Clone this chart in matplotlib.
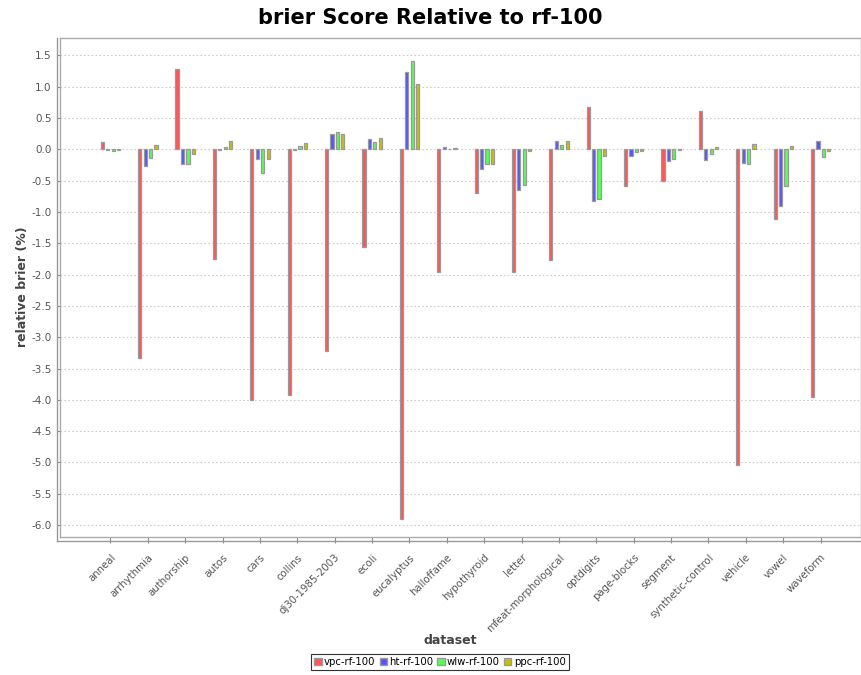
import numpy as np
import matplotlib
matplotlib.use("Agg")
import matplotlib.pyplot as plt
from matplotlib.lines import Line2D
from matplotlib.patches import Patch

datasets = ["anneal", "arrhythmia", "authorship", "autos", "cars", "collins",
            "dj30-1985-2003", "ecoli", "eucalyptus", "halloffame", "hypothyroid",
            "letter", "mfeat-morphological", "optdigits", "page-blocks", "segment",
            "synthetic-control", "vehicle", "vowel", "waveform"]

vpc = [0.11, -3.33, 1.29, -1.75, -4.00, -3.93, -3.22, -1.56, -5.91, -1.96,
       -0.69, -1.96, -1.77, 0.67, -0.58, -0.51, 0.62, -5.04, -1.11, -3.95]
ht = [-0.01, -0.27, -0.24, -0.01, -0.15, -0.01, 0.24, 0.16, 1.24, 0.04,
      -0.32, -0.65, 0.14, -0.83, -0.11, -0.18, -0.17, -0.22, -0.90, 0.14]
wlw = [-0.03, -0.14, -0.24, 0.03, -0.38, 0.05, 0.28, 0.12, 1.41, 0.005,
       -0.24, -0.57, 0.07, -0.79, -0.04, -0.16, -0.07, -0.24, -0.58, -0.13]
ppc = [-0.01, 0.07, -0.07, 0.13, -0.15, 0.10, 0.25, 0.18, 1.05, 0.02,
       -0.23, -0.02, 0.13, -0.10, -0.02, -0.005, 0.04, 0.08, 0.06, -0.03]

series_names = ["vpc-rf-100", "ht-rf-100", "wlw-rf-100", "ppc-rf-100"]
series_values = [vpc, ht, wlw, ppc]
series_colors = ["#FF5555", "#5555FF", "#55FF55", "#C8C000"]

W, H = 861, 675
fig = plt.figure(figsize=(W / 100, H / 100), dpi=100)
fig.patch.set_facecolor("white")

left, right, top, bottom = 60, 861, 38, 537
ax = fig.add_axes([left / W, 1 - bottom / H, (right - left) / W, (bottom - top) / H])

x = np.arange(len(datasets))
pitch = 0.145
width = 0.085
for i, (name, vals, col) in enumerate(zip(series_names, series_values, series_colors)):
    ax.bar(x + (i - 1.5) * pitch, vals, width=width, color=col,
           edgecolor="#9a9a9a", linewidth=0.9, label=name, zorder=3)

ax.set_xlim(-1.35, 20.08)
ax.set_ylim(-6.19, 1.778)
yt = np.arange(-6.0, 1.51, 0.5)
ax.set_yticks(yt)
ax.set_yticklabels([f"{v:.1f}" for v in yt])
ax.yaxis.grid(True, linestyle=(0, (1.5, 2)), color="#cccccc", linewidth=0.8, zorder=0)
ax.set_axisbelow(True)

ax.set_xticks(x)
ax.set_xticklabels(datasets, rotation=45, ha="right", va="top",
                   rotation_mode="anchor", fontsize=7.3, color="#555555")
ax.tick_params(axis="x", length=4, color="#888888", pad=7)
ax.tick_params(axis="y", length=2, color="#888888", labelsize=7.5,
               labelcolor="#555555", pad=4)

for s in ax.spines.values():
    s.set_color("#aaaaaa")
    s.set_linewidth(1.0)

# outer axis lines along the left and bottom edges
fig.add_artist(Line2D([(left - 3) / W, (left - 3) / W],
                      [1 - (bottom + 4) / H, 1 - top / H],
                      color="#999999", linewidth=1.0))
fig.add_artist(Line2D([(left - 3) / W, right / W],
                      [1 - (bottom + 4) / H, 1 - (bottom + 4) / H],
                      color="#999999", linewidth=1.0))

fig.text(23 / W, 1 - 287 / H, "relative brier (%)", ha="center", va="center",
         rotation=90, fontsize=9, fontweight="bold", color="#444444")
fig.text(450 / W, 1 - 640 / H, "dataset", ha="center", va="center",
         fontsize=9, fontweight="bold", color="#444444")

fig.text(430 / W, 1 - 18 / H, "brier Score Relative to rf-100", ha="center",
         va="center", fontsize=15, fontweight="bold")

handles = [Patch(facecolor=c, edgecolor="#9a9a9a", label=n)
           for n, c in zip(series_names, series_colors)]
leg = fig.legend(handles=handles, loc="center", bbox_to_anchor=(440 / W, 1 - 662 / H),
                 ncol=4, fontsize=7.3, frameon=True, fancybox=False,
                 handlelength=0.7, handleheight=0.7, handletextpad=0.25,
                 columnspacing=0.4, borderpad=0.3, borderaxespad=0)
leg.get_frame().set_edgecolor("black")
leg.get_frame().set_linewidth(0.8)

fig.savefig("out.png", dpi=100, facecolor="white")
